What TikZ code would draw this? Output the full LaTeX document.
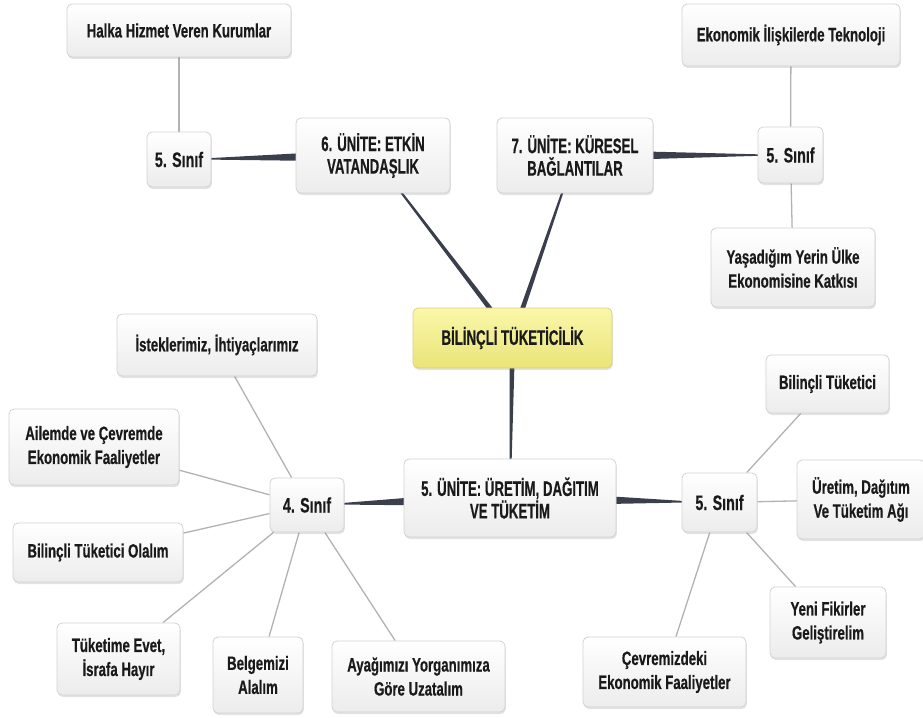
\documentclass[tikz,border=0pt]{standalone}
\usepackage{fontspec}
\setmainfont{Liberation Sans}
\newfontfamily\leaff{Liberation Sans}[FakeStretch=0.685, BoldFeatures={FakeBold=0.5}]
\newfontfamily\unitf{Liberation Sans}[FakeStretch=0.63, BoldFeatures={FakeBold=0.5}]
\newfontfamily\sinff{Liberation Sans}[FakeStretch=0.68, BoldFeatures={FakeBold=0.5}]
\usetikzlibrary{calc,shadows,backgrounds}
\definecolor{boxline}{HTML}{D2D2D2}
\definecolor{boxbot}{HTML}{ECECEC}
\definecolor{txt}{HTML}{1A1A1A}
\definecolor{unitc}{HTML}{3B3F4C}
\definecolor{leafc}{HTML}{B2B2B2}
\definecolor{ytop}{HTML}{FAF7AA}
\definecolor{ybot}{HTML}{EAE478}
\definecolor{yline}{HTML}{D8D27A}
\tikzset{
  box/.style={draw=boxline, line width=0.8pt, rounded corners=5pt,
    top color=white, bottom color=boxbot,
    drop shadow={opacity=0.22, shadow xshift=0.8pt, shadow yshift=-2pt},
    font=\leaff\fontsize{19.3}{24}\selectfont\bfseries, text=txt, align=center, inner sep=0pt},
  unitbox/.style={box, font=\unitf\fontsize{21}{22.5}\selectfont\bfseries},
  sinifbox/.style={box, font=\sinff\fontsize{21}{23}\selectfont\bfseries},
  mainbox/.style={unitbox, draw=yline, top color=ytop, bottom color=ybot},
  leafline/.style={draw=leafc, line width=1.3pt},
  unitfill/.style={fill=unitc}
}
\newcommand\taperline[4]{%
  \path (#1) -- (#2) coordinate[pos=0] (ta) coordinate[pos=1] (tb);
  \path ($(ta)!-6pt!(tb)$) coordinate (tc) ($(tb)!-6pt!(ta)$) coordinate (td);
  \fill[unitfill] ($(tc)!#3!90:(td)$) -- ($(td)!#4!-90:(tc)$) -- ($(td)!#4!90:(tc)$) -- ($(tc)!#3!-90:(td)$) -- cycle;}
\begin{document}
\begin{tikzpicture}[x=1pt,y=-1pt]
\useasboundingbox (0,0) rectangle (923,717);
\clip (0,0) rectangle (923,717);
% top left
\node[box, minimum width=224pt, minimum height=53pt] (halka) at (179,30.5) {Halka Hizmet Veren Kurumlar};
\node[sinifbox, minimum width=64pt, minimum height=55pt] (s5a) at (179,159.5) {5. Sınıf};
\node[unitbox, minimum width=154pt, minimum height=75pt] (u6) at (373,155.5) {6. ÜNİTE: ETKİN\\VATANDAŞLIK};
% top right
\node[unitbox, minimum width=156pt, minimum height=75pt] (u7) at (575,155.5) {7. ÜNİTE: KÜRESEL\\BAĞLANTILAR};
\node[sinifbox, minimum width=65pt, minimum height=56pt] (s5b) at (790.5,155) {5. Sınıf};
\node[box, minimum width=218pt, minimum height=62pt] (eko) at (791,35) {Ekonomik İlişkilerde Teknoloji};
\node[box, minimum width=164pt, minimum height=79pt] (yasa) at (793,267.5) {Yaşadığım Yerin Ülke\\Ekonomisine Katkısı};
% center
\node[mainbox, minimum width=199pt, minimum height=60pt] (main) at (512.5,338) {BİLİNÇLİ TÜKETİCİLİK};
\node[unitbox, minimum width=212pt, minimum height=78pt] (u5) at (510,498) {5. ÜNİTE: ÜRETİM, DAĞITIM\\VE TÜKETİM};
% bottom right
\node[sinifbox, minimum width=75pt, minimum height=59pt] (s5c) at (719.5,502.5) {5. Sınıf};
\node[box, minimum width=123pt, minimum height=58pt] (bt) at (827.5,384) {Bilinçli Tüketici};
\node[box, minimum width=128pt, minimum height=79pt] (uret) at (861,499.5) {Üretim, Dağıtım\\Ve Tüketim Ağı};
\node[box, minimum width=116pt, minimum height=71pt] (yeni) at (828,622.5) {Yeni Fikirler\\Geliştirelim};
\node[box, minimum width=163pt, minimum height=70pt] (cevre) at (664.5,672) {Çevremizdeki\\Ekonomik Faaliyetler};
% bottom left
\node[sinifbox, minimum width=74pt, minimum height=54pt] (s4) at (307,505) {4. Sınıf};
\node[box, minimum width=200pt, minimum height=62pt] (istek) at (217,345) {İsteklerimiz, İhtiyaçlarımız};
\node[box, minimum width=170pt, minimum height=76pt] (aile) at (94,447) {Ailemde ve Çevremde\\Ekonomik Faaliyetler};
\node[box, minimum width=170pt, minimum height=59pt] (bto) at (98,552.5) {Bilinçli Tüketici Olalım};
\node[box, minimum width=123pt, minimum height=72pt] (tuk) at (118.5,659) {Tüketime Evet,\\İsrafa Hayır};
\node[box, minimum width=90pt, minimum height=76pt] (belge) at (258,675) {Belgemizi\\Alalım};
\node[box, minimum width=173pt, minimum height=71pt] (ayag) at (418.5,676.5) {Ayağımızı Yorganımıza\\Göre Uzatalım};
\begin{scope}[on background layer]
  \taperline{main}{u6}{2.4pt}{1.0pt}
  \taperline{main}{u7}{2.4pt}{1.0pt}
  \taperline{main}{u5}{2.4pt}{1.0pt}
  \taperline{u6}{s5a}{3.8pt}{0.6pt}
  \taperline{u7}{s5b}{3.8pt}{0.6pt}
  \taperline{u5}{s4}{3.8pt}{0.6pt}
  \taperline{u5}{s5c}{3.8pt}{0.6pt}
  \draw[leafline] (s5a) -- (halka);
  \draw[leafline] (s5b) -- (eko);
  \draw[leafline] (s5b) -- (yasa);
  \draw[leafline] (s4) -- (istek);
  \draw[leafline] (s4) -- (aile);
  \draw[leafline] (s4) -- (bto);
  \draw[leafline] (s4) -- (tuk);
  \draw[leafline] (s4) -- (belge);
  \draw[leafline] (s4) -- (ayag);
  \draw[leafline] (s5c) -- (bt);
  \draw[leafline] (s5c) -- (uret);
  \draw[leafline] (s5c) -- (yeni);
  \draw[leafline] (s5c) -- (cevre);
\end{scope}
\end{tikzpicture}
\end{document}
